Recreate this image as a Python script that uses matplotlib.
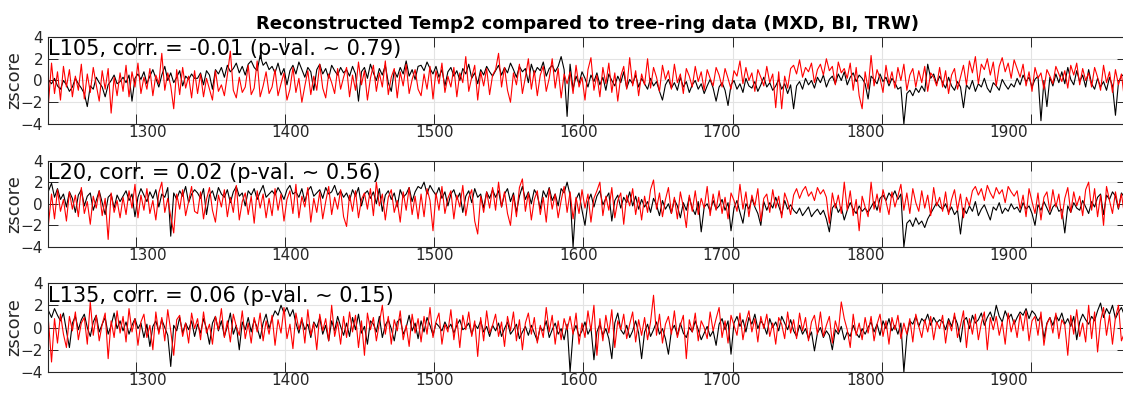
import numpy as np
import matplotlib
matplotlib.use("Agg")
import matplotlib.pyplot as plt

# z-scores in tenths, one value every second year starting 1241
# panel L105
k105 = [0, -3, 2, -5, -8, 0, -4, -10, -6, 2, -3, -7, -12, -24, -5, -8, 3, -2, -6, -15, -4, 0, 5, -3, -1,
        3, -2, 5, -19, 2, 6, 1, 8, -3, 4, 10, 2, -6, 5, 13, 0, 7, -2, 3, 9, -5, 4, 1, 6, 2,
        2, 7, -4, 9, 5, -8, 10, 6, 12, 3, 14, 8, 11, 16, 7, 13, 5, 15, 18, 12, 9, 23, 14, 17, 10,
        13, 7, 16, 5, 11, -4, 9, 14, 6, 17, 10, 3, 12, 8, -9, 10, 15, 6, 11, 2, 14, 9, 5, 12, 7,
        10, 4, 13, 6, -19, 8, 12, 2, 15, 7, 0, 11, 5, 14, -2, -10, 9, 3, 12, 6, 18, 4, 10, 1, 13,
        14, 9, 17, 11, 6, 13, 3, 10, -5, 8, 12, 4, 9, 0, 11, 6, 15, 2, 7, -3, 10, 5, 13, 8, 4,
        9, 14, 5, 12, 7, 16, 10, 3, 13, 8, 11, -2, 15, 6, 12, 9, 17, 4, 11, 14, 8, 13, 22, 10, -33,
        15, -8, 4, -3, 8, 2, -6, 5, -1, 7, -4, 3, -9, 6, 0, -5, 4, -2, 8, -7, 1, -3, 5, -6, 2,
        -3, -8, 2, -5, -1, -10, -18, -4, 1, -7, -2, -9, 3, -6, -1, -11, -4, 0, -8, -3, -12, -5, 1, -7, -19,
        -6, -2, -9, -23, -4, 0, -8, -3, -11, 2, -5, -7, -1, -10, -4, 3, -6, -2, -9, -5, 1, -8, -3, -12, -4,
        -26, -5, -1, -8, 2, -4, 0, -7, 3, -2, 5, -6, 1, 4, -3, 6, 0, 8, -4, 3, 7, -1, 5, 2, -3,
        -17, 4, 1, -3, 6, -1, 3, -5, 2, -2, -8, -6, -40, -12, -9, -14, -7, -11, -5, -10, 15, 2, 6, -3, 4,
        -2, -7, 3, -5, -9, -1, -6, -25, -4, -8, 0, -10, -3, -6, 2, -7, -11, -2, -5, -9, 1, -4, -8, -3, -6,
        2, -4, 5, -1, 3, -6, 1, 4, -37, 0, -24, 3, -5, 6, -2, 8, -3, 12, 1, -4, 9, -1, 5, -6, 10,
        -3, -8, 2, -6, -1, -9, 3, -5, -32, -2, 4, 6]
r105 = [-20, 16, -12, 8, -18, 13, -6, 10, -15, 4, -9, 15, -17, 6, -11, 12, -4, -19, 9, -8, 11, -30, 3, -14, 7,
        -10, 14, -15, 8, -6, 16, -12, 3, -8, 11, -14, 5, -3, 25, -9, 7, -5, -26, 10, -13, 12, -7, 4, -16, 9,
        -12, 6, -15, 2, -8, -18, 9, -10, -4, -14, 5, 27, -9, -16, 3, -11, -6, 14, -13, -7, 18, -15, -5, 8, -12,
        -6, 10, -14, -3, 7, -18, -8, 12, -11, 2, -20, -5, 9, -13, 4, -9, 15, -7, -16, 6, -2, -12, 11, -8, 3,
        12, -15, 5, -9, 17, -4, 9, -18, 2, 14, -10, 7, -6, 18, -13, 3, 11, -16, 8, -5, 15, -12, 1, 10, -8,
        -14, 6, -8, 13, -17, 9, -3, 16, -11, 4, -6, 12, -15, 7, -2, 22, -10, 3, 14, -18, 8, -5, 11, -13, 5,
        10, 25, -6, 12, -9, -20, 7, -4, 15, -12, 3, 20, -8, 9, -14, 5, 13, -10, 2, 20, -7, 11, -16, 6, -3,
        8, -12, 14, -6, 3, -18, 10, 21, -9, 5, -15, 12, -3, 16, -11, 7, -19, 4, 13, -8, 21, -5, 9, -14, 6,
        -4, 20, -7, 12, 3, -10, 14, 1, 9, -8, 15, -2, 6, -12, 11, 4, -6, 13, -1, 8, -9, 10, 2, -5, 12,
        5, -6, 11, 2, -8, 9, 4, 18, -3, 12, 0, 7, -10, 10, 3, -5, 13, -2, 6, -25, 8, -26, 4, -7, 11,
        14, 6, 19, 3, 12, 8, 16, -2, 10, 15, 5, 20, 9, 13, -4, 17, 7, 11, 2, 16, -9, 12, -14, -26, 8,
        -8, 23, -5, 10, 2, -11, 14, -3, 8, -7, 12, 0, 15, -9, 5, 11, -6, 9, -2, 13, -10, 7, 3, -5, 12,
        -6, 9, -12, 5, 11, -8, 3, 14, -4, 18, 7, 22, -3, 15, 10, 20, 5, 17, -5, 13, 21, 8, 16, 2, 19,
        11, 3, 15, -5, 8, -10, 12, 2, 7, -8, 10, 4, -3, 13, 6, -1, 9, -7, 14, 5, 16, -4, 11, 0, 7,
        -6, 12, 3, -9, 14, -2, 8, -11, 10, -4, 6, -17]
# panel L20
k20 = [12, 19, 6, 14, 4, 9, -3, 11, 5, -8, 8, 13, -2, 7, 10, -6, 3, 12, 1, -10, 6, 9, -4, 8, 2,
       7, 12, 3, 9, -12, 6, 14, 8, 2, 11, 5, 13, -3, 9, 6, 15, -30, 10, 4, 12, 7, 16, 1, 9, 13,
       10, 5, 14, -10, 8, 12, 3, 15, 9, 6, 13, 1, 11, 16, 7, 10, -2, 12, 8, 14, 4, 11, 17, 6, 9,
       12, 8, 15, 10, 4, 13, 17, 9, 11, 6, 14, 2, 12, 16, 7, 10, 13, 5, 15, 9, 11, 17, 8, 12, 6,
       10, 3, 13, 7, 15, -2, 9, 12, 5, 11, 0, 14, -7, 8, 12, 4, 10, -3, 13, 6, 9, 15, 2, 11, 16,
       14, 20, 9, 17, 12, 8, 15, 5, 11, -2, 9, 13, 4, 10, -8, 7, 12, 1, 14, 6, 9, -4, 11, 5, 13,
       6, 12, -3, 9, 14, 2, 10, -8, 7, 16, 4, 11, 0, 13, 8, -5, 12, 6, 15, 3, 9, -2, 14, 10, 20,
       8, -40, 4, 10, -6, -20, 2, 9, -3, 7, 12, -1, 5, 10, -16, 3, 8, -4, 6, 1, 11, -2, 7, -5, 4,
       -3, 2, -8, 5, -1, -11, 3, -5, 0, -9, 4, -2, -13, 1, -6, 6, -4, -10, 2, -26, -3, 0, -7, 3, -5,
       -2, 4, -6, 1, -25, -4, 3, -8, -18, 0, -5, 5, -3, -9, -20, 2, -6, 1, -4, 6, -2, -10, 3, -5, -1,
       -6, -9, -4, -11, -7, -3, -12, -8, -5, -10, -6, -14, -26, -4, 0, -8, -3, -15, -6, 1, -5, -9, -2, -7, -4,
       -8, -3, 2, -6, 5, 8, 3, 10, 6, 12, 4, 9, -40, -18, -15, -21, -13, -19, -16, -22, -14, -9, -4, 1, -3,
       -5, 0, -8, -3, -10, -6, -28, -4, -9, -2, -7, 2, -11, -5, -1, -8, -15, -3, -6, 1, -9, -4, -7, 0, -5,
       -3, -8, 1, -5, -2, -9, -20, -1, -6, 2, -4, -10, -3, 0, -7, -5, -27, -2, -8, 1, -4, -6, 3, -3, -9,
       2, -3, 6, 9, -10, 8, 4, 11, 7, -5, 10, 6]
r20 = [-18, 9, -14, 13, -7, 4, -16, 11, -5, 8, -12, 15, -9, 2, -19, 7, -4, 12, -11, 5, -33, 10, -8, 3, -13,
       6, -10, 12, -4, 18, -13, 8, -6, 14, -9, 3, -15, 10, 20, -8, 5, -12, -27, 9, -5, 13, -11, 2, 16, -7,
       -9, 11, -14, 4, 15, -6, -17, 8, -3, 13, -12, 6, -8, 17, -15, 2, 10, -10, 7, -18, 12, -4, 9, -13, 5,
       -11, 14, -6, 9, -16, 4, 12, -9, 18, -13, 7, -3, 15, -17, 5, -8, 11, -14, 2, 16, -10, 6, -5, 13, -12,
       -21, 8, -7, 12, -13, 4, 10, -5, 14, -11, 20, -2, 9, -15, 6, 13, -8, 3, -17, 11, -6, 15, -10, 7, -14,
       9, -12, 14, 3, -25, 10, -6, 16, -9, 5, 12, -14, 8, -3, 17, -11, 6, 13, -16, -28, 7, -8, 11, -4, 15,
       -6, 20, -3, 11, -9, -20, 8, -12, 15, 23, -7, 10, -15, 4, 12, -10, 6, -17, 14, -5, 9, -13, 3, 16, -8,
       11, -14, 6, -9, 13, -4, 9, -17, 5, 12, 20, -11, 7, -6, 15, -13, 3, 10, -19, 8, -2, 14, -10, 6, -15,
       7, -8, 13, 22, -5, 10, -12, 4, 15, -9, 6, -14, 11, -3, -22, 8, -7, 12, -10, 5, -4, 16, -11, 9, -6,
       12, -9, 6, -14, 10, 3, -7, 18, -5, 11, -12, 8, -2, 14, -16, 5, 9, -8, 13, -4, 7, -13, 10, 2, -10,
       8, 14, 5, 12, 16, 7, 11, 3, 15, 9, 13, 6, -18, 10, -4, 8, -9, 20, -6, 12, -11, 4, -25, 7, -3,
       -12, 20, -5, 9, -8, 13, 2, -10, 11, -3, 7, 18, -6, 10, -9, 14, 1, -7, 12, -4, 8, -11, 15, -2, 6,
       -7, 11, -10, 4, 13, -6, 9, -13, 6, -2, 12, 16, 8, 14, 3, 17, 10, 5, 15, 9, 13, 1, 16, 11, 7,
       12, -5, 8, -12, 14, 2, -9, 10, -15, 6, 11, -7, 13, -3, 9, -14, 5, 15, -8, 11, -2, 7, -11, 13, 20,
       -6, 14, -12, 8, -20, 16, 3, -9, 11, -4, 9, -10]
# panel L135
k135 = [15, 9, 17, 11, 6, 13, -3, -18, 4, 10, -2, 7, 12, 0, -8, 5, 11, -4, 3, 9, -6, 2, 13, -1, 6,
        -3, 5, -6, 2, 8, -1, 4, -9, 3, -17, 1, 6, -4, 7, 0, -7, -35, 2, -3, 9, -5, 4, -2, 6, -8,
        3, -5, 8, -1, -15, 4, 10, -3, 6, -8, 1, 13, -6, 2, -20, 5, -2, 9, -4, 7, 0, -10, 4, 12, -1,
        8, 15, 11, 20, 13, 18, 10, 16, 4, -5, 7, -2, 3, -9, 5, 0, 9, -6, 2, -12, 6, -3, 10, 1, -7,
        4, -8, 9, -2, 12, -5, 1, -15, 6, 3, -4, 10, -9, 2, 7, -1, -12, 5, 8, -6, 0, 11, -3, 4, -10,
        6, -4, 9, 2, -7, 4, 1, -3, 5, -1, 3, -5, 2, 7, -2, 0, 4, -6, 3, -1, 6, -4, 1, -8, 2,
        -3, 4, -8, -1, 5, -6, -2, 3, -10, -4, 1, -7, 2, -5, -12, 0, -3, 6, -9, -2, 4, -6, -1, -11, 3,
        -40, -5, 2, -8, -3, 5, -6, 0, -29, -4, 3, -7, -1, -10, -28, 4, 13, -2, -6, 2, -9, -3, 6, -5, -28,
        -4, 3, -8, -2, 5, -6, -1, -10, -24, -3, 2, -7, 4, -5, -9, 0, -4, 6, -2, -11, -5, 1, -8, -3, -16,
        3, 8, -2, 6, -24, 4, 10, 1, 7, -4, 9, 3, 12, -1, 6, 2, -6, 8, 0, 5, -3, 10, 4, -2, 7,
        -3, -8, 2, -6, -1, -10, -4, -21, -5, 0, -9, -3, -7, -20, -2, -6, 1, -11, -4, -8, 2, -5, -9, -1, -6,
        0, 5, -4, 3, -7, 6, -1, 8, -3, 2, -6, 4, -40, -8, 6, 3, 10, 1, 8, 5, 12, 2, 9, 4, 7,
        5, -2, 8, 1, 10, 3, -13, 6, 9, -1, 11, 4, 7, 13, 2, 9, 14, 6, 20, 10, 5, 15, 8, 12, 3,
        9, 14, 11, 17, 8, 15, 12, 6, 10, -10, 4, 9, 2, 11, 6, 13, 3, 8, 1, 10, -11, 5, 12, 7, 3,
        10, 6, 15, 22, 9, 17, 12, 20, 8, 14, 18, 11]
r135 = [5, -31, 8, -14, 12, -6, -18, 10, -3, 14, -11, 4, 9, -15, 23, -7, 11, -12, 3, 13, -28, 6, -9, 15, -5,
        10, -13, 17, -4, 8, -16, 5, 12, -9, 2, -20, 14, -6, 9, -12, 16, -3, -25, 7, 11, -8, 4, -14, 13, -1,
        8, -11, 14, -5, 3, -15, 10, -2, 17, -9, 6, -13, 12, 1, -7, 15, -10, 4, -14, 9, -4, 13, -12, 6, -6,
        11, -16, 7, -5, 18, -10, 3, -19, 13, -2, 9, -14, 16, -7, 4, -20, 12, -3, 8, -12, 20, -8, 5, -15, 10,
        -9, 14, -4, 11, -18, 6, -25, 13, -2, 9, -12, 4, 20, -6, 10, -15, 7, -3, 15, -11, 2, -17, 12, -5, 8,
        -13, 10, -6, 18, -9, 5, 13, -15, 3, -4, 16, -11, 8, -18, 11, -2, 14, -8, 6, -26, 9, -12, 15, -5, 2,
        12, -8, 5, -17, 10, -3, 14, -12, 7, -20, 4, 13, -6, 9, -14, 2, -9, 18, -4, 11, -15, 6, -11, 8, -2,
        10, -6, 13, -15, 4, -9, 15, -3, 20, -25, 8, -12, 11, -5, 16, -18, 6, -2, 12, -10, 3, 14, -13, 7, -7,
        9, -11, 5, 29, -7, 12, -14, 3, 10, -6, 15, -9, 2, 11, -28, 7, -4, 13, -12, 6, 0, -10, 14, -3, 8,
        18, -9, 6, -14, 11, 2, -7, 13, -11, 5, 15, -4, 8, -13, 10, -1, 12, -8, 4, -15, 9, 3, -10, 14, -5,
        7, -10, 13, -3, 9, -12, 5, 11, -6, 14, -8, 2, 10, -14, 6, -4, 23, 8, -2, -18, 12, -7, 4, -11, 9,
        -5, 10, -12, 3, 12, -8, 6, -15, 9, -2, 11, -10, 4, -6, 8, -13, 12, 1, -9, 7, -4, 10, -11, 5, -1,
        11, -14, 6, -3, 13, -9, 2, 15, -18, 8, -6, 12, -11, 4, 14, -20, 9, -2, 10, -7, 5, -15, 13, -4, 7,
        -9, 12, -3, 15, -12, 6, 10, -7, 14, -16, 3, 9, -5, 13, -10, 7, 2, -25, 11, -6, 16, -8, 4, -13, 20,
        -10, 14, -22, 6, 18, -7, 11, -15, 9, 20, -12, -5]

labels = ["L105, corr. = -0.01 (p-val. ~ 0.79)",
          "L20, corr. = 0.02 (p-val. ~ 0.56)",
          "L135, corr. = 0.06 (p-val. ~ 0.15)"]
xticks = [1300, 1400, 1500, 1600, 1700, 1800, 1900]
yticks = [-4, -2, 0, 2, 4]
title = "Reconstructed Temp2 compared to tree-ring data (MXD, BI, TRW)"

black = [k105, k20, k135]
red = [r105, r20, r135]

fig = plt.figure(figsize=(11.23, 3.94), dpi=100)
boxes = [(0.0427, 0.6853, 0.9612, 0.2208),
         (0.0427, 0.3731, 0.9612, 0.2195),
         (0.0427, 0.0558, 0.9612, 0.2259)]
dark = "#262626"

# tick labels sit a bit closer to the centre than the ticks themselves
lab_pos = [1500 + (t - 1500) * 0.964 for t in xticks]

for i in range(3):
    ax = fig.add_axes(boxes[i])
    kb = np.array(black[i]) / 10
    rr = np.array(red[i]) / 10
    ax.plot(1241 + 2 * np.arange(len(kb)), kb, color="k", lw=0.8)
    ax.plot(1241 + 2 * np.arange(len(rr)), rr, color="r", lw=0.8)
    ax.set_xlim(1240.6, 1965)
    ax.set_ylim(-4, 4)
    ax.set_yticks(yticks)
    ax.xaxis.remove_overlapping_locs = False
    ax.set_xticks(xticks)
    ax.set_xticks(lab_pos, labels=[str(t) for t in xticks], minor=True)
    ax.grid(True, which="major", color="#e3e3e3", lw=0.8)
    ax.set_axisbelow(True)
    ax.tick_params(which="major", direction="in", length=7.5, width=0.7,
                   top=True, right=True, color=dark, labelsize=11,
                   labelcolor=dark, pad=3.5)
    ax.tick_params(axis="x", which="major", labelbottom=False)
    ax.tick_params(axis="x", which="minor", length=0, labelsize=11,
                   labelcolor=dark, pad=1)
    for s in ax.spines.values():
        s.set_color(dark)
        s.set_linewidth(0.8)
    ax.set_ylabel("zscore", fontsize=13, color=dark)
    ax.yaxis.set_label_coords(-0.023, 0.5)
    ax.text(0.0, 0.79, labels[i], transform=ax.transAxes, fontsize=15,
            ha="left", va="baseline")
    if i == 0:
        ax.set_title(title, fontsize=13, fontweight="bold", pad=5.8)

fig.savefig("out.png", dpi=100)
